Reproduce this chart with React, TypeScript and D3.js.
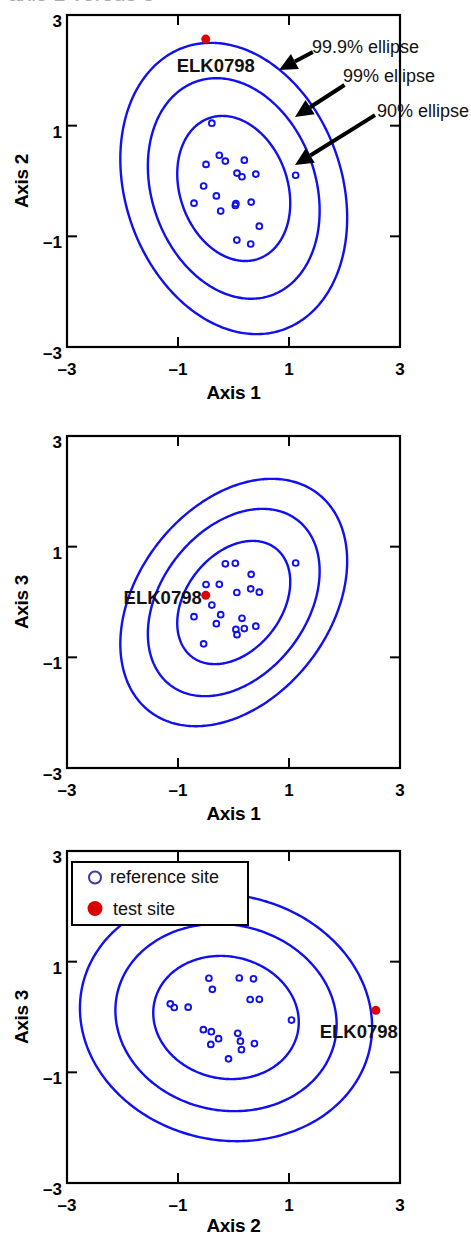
import React from 'react';
import * as d3 from 'd3';

// ---- data (ordination scores of 19 reference sites) ----
const axis1Scores = [-0.39, -0.256, -0.147, 0.195, -0.495, 0.063, 0.153, 0.402, 1.12, -0.538, -0.309, -0.712, 0.033, 0.043, 0.318, -0.231, 0.465, 0.06, 0.31];
const axis2Scores = [1.045, 0.465, 0.36, 0.377, 0.3, 0.143, 0.077, 0.125, 0.104, -0.09, -0.269, -0.4, -0.443, -0.409, -0.381, -0.543, -0.817, -1.067, -1.139];
const axis3Scores = [-0.055, 0.32, 0.69, -0.48, 0.316, -0.59, -0.295, -0.437, 0.705, -0.756, -0.392, -0.266, 0.7, -0.495, 0.5, -0.229, 0.178, 0.172, 0.238];

const testSiteName = 'ELK0798';
const testSiteScores = [-0.5, 2.565, 0.12];

const ellipseLevels = [0.9, 0.99, 0.999];
const ellipseLabels = ['90% ellipse', '99% ellipse', '99.9% ellipse'];
const tickValues = [-3, -1, 1, 3];
const axisDomain: [number, number] = [-3, 3];
const axisTitles = ['Axis 1', 'Axis 2', 'Axis 3'];
const legendLabels = ['reference site', 'test site'];

const scores = [axis1Scores, axis2Scores, axis3Scores];

// annotation anchors (data units of panel 1): [textX, textY, tailX, tailY, tipX, tipY]
const annotationAnchors = [
  [2.586, 1.157, 2.55, 1.19, 1.108, 0.289],
  [1.973, 1.789, 2.0, 1.735, 1.108, 1.157],
  [1.414, 2.313, 1.43, 2.33, 0.82, 2.006],
];

const FRAME_L = 67;
const FRAME_R = 400;
const FRAME_H = 332;
const panelTops = [15, 436, 851];

const BLUE = '#1010f0';
const RED = '#dd0000';
const FONT = '"Liberation Sans", Arial, sans-serif';

const panels = [
  { xi: 0, yi: 1, labelDx: 10, labelDy: 33, anchor: 'middle', annotate: true, legend: false },
  { xi: 0, yi: 2, labelDx: -4, labelDy: 9, anchor: 'end', annotate: false, legend: false },
  { xi: 1, yi: 2, labelDx: 22, labelDy: 28, anchor: 'end', annotate: false, legend: true },
];

function ellipsePath(xs: number[], ys: number[], level: number, sx: any, sy: any) {
  const n = xs.length;
  const mx = d3.mean(xs)!;
  const my = d3.mean(ys)!;
  let sxx = 0, syy = 0, sxy = 0;
  for (let i = 0; i < n; i++) {
    sxx += (xs[i] - mx) ** 2;
    syy += (ys[i] - my) ** 2;
    sxy += (xs[i] - mx) * (ys[i] - my);
  }
  sxx /= n - 1; syy /= n - 1; sxy /= n - 1;
  // Hotelling T^2 with p = 2: (n-1) * ((1-a)^(-2/(n-2)) - 1)
  const t2 = (n - 1) * (Math.pow(1 - level, -2 / (n - 2)) - 1);
  const k = Math.sqrt(t2);
  const l11 = Math.sqrt(sxx);
  const l21 = sxy / l11;
  const l22 = Math.sqrt(syy - l21 * l21);
  const pts: [number, number][] = d3.range(0, 361).map((deg) => {
    const t = (deg * Math.PI) / 180;
    const c = Math.cos(t), s = Math.sin(t);
    return [sx(mx + k * l11 * c), sy(my + k * (l21 * c + l22 * s))];
  });
  return d3.line()(pts)!;
}

function Panel({ p, top }: { p: any; top: number }) {
  const sx = d3.scaleLinear().domain(axisDomain).range([FRAME_L, FRAME_R]);
  const sy = d3.scaleLinear().domain(axisDomain).range([top + FRAME_H, top]);
  const xs = scores[p.xi];
  const ys = scores[p.yi];
  const bottom = top + FRAME_H;
  const tx = sx(testSiteScores[p.xi]);
  const ty = sy(testSiteScores[p.yi]);
  const inner = tickValues.filter((v) => v !== -3 && v !== 3);
  return (
    <g>
      {ellipseLevels.map((lv) => (
        <path key={lv} d={ellipsePath(xs, ys, lv, sx, sy)} fill="none" stroke={BLUE} strokeWidth={2.4} />
      ))}
      {xs.map((x, i) => (
        <circle key={i} cx={sx(x)} cy={sy(ys[i])} r={2.9} fill="none" stroke={BLUE} strokeWidth={1.9} />
      ))}
      <circle cx={tx} cy={ty} r={4.5} fill={RED} />
      <text x={tx + p.labelDx} y={ty + p.labelDy} textAnchor={p.anchor} fontFamily={FONT} fontWeight="bold" fontSize={18.5} fill="#111">
        {testSiteName}
      </text>
      {/* frame */}
      <rect x={FRAME_L} y={top} width={FRAME_R - FRAME_L} height={FRAME_H} fill="none" stroke="#000" strokeWidth={2.2} />
      {inner.map((v) => (
        <g key={v} stroke="#000" strokeWidth={2}>
          <line x1={sx(v)} x2={sx(v)} y1={bottom} y2={bottom - 10} />
          <line x1={sx(v)} x2={sx(v)} y1={top} y2={top + 10} />
          <line x1={FRAME_L} x2={FRAME_L + 10} y1={sy(v)} y2={sy(v)} />
          <line x1={FRAME_R} x2={FRAME_R - 10} y1={sy(v)} y2={sy(v)} />
        </g>
      ))}
      {tickValues.map((v) => (
        <text key={'x' + v} x={sx(v)} y={bottom + 28} textAnchor="middle" fontFamily={FONT} fontWeight="bold" fontSize={17}>
          {v < 0 ? '\u2013' + Math.abs(v) : String(v)}
        </text>
      ))}
      {tickValues.map((v) => (
        <text key={'y' + v} x={62} y={sy(v) + 12} textAnchor="end" fontFamily={FONT} fontWeight="bold" fontSize={17}>
          {v < 0 ? '\u2013' + Math.abs(v) : String(v)}
        </text>
      ))}
      <text x={(FRAME_L + FRAME_R) / 2} y={Math.min(bottom + 52, 1232)} textAnchor="middle" fontFamily={FONT} fontWeight="bold" fontSize={19} letterSpacing={-0.3}>
        {axisTitles[p.xi]}
      </text>
      <text transform={`translate(28,${top + FRAME_H / 2}) rotate(-90)`} textAnchor="middle" fontFamily={FONT} fontWeight="bold" fontSize={19} letterSpacing={-0.3}>
        {axisTitles[p.yi]}
      </text>
      {p.annotate &&
        annotationAnchors.map((a, i) => {
          const x0 = sx(a[2]), y0 = sy(a[3]), x1 = sx(a[4]), y1 = sy(a[5]);
          const ang = Math.atan2(y1 - y0, x1 - x0);
          const hl = 18, hw = 8.5;
          const bx = x1 - hl * Math.cos(ang), by = y1 - hl * Math.sin(ang);
          const px = -Math.sin(ang) * hw, py = Math.cos(ang) * hw;
          return (
            <g key={i}>
              <line x1={x0} y1={y0} x2={bx} y2={by} stroke="#000" strokeWidth={4} />
              <polygon points={`${x1},${y1} ${bx + px},${by + py} ${bx - px},${by - py}`} fill="#000" />
              <text x={sx(a[0])} y={sy(a[1])} fontFamily={FONT} fontSize={18} fill="#111">
                {ellipseLabels[i]}
              </text>
            </g>
          );
        })}
      {p.legend && (
        <g>
          <rect x={72} y={top + 11} width={176} height={63} fill="#fff" stroke="#000" strokeWidth={2} />
          <circle cx={95} cy={top + 26.5} r={6} fill="none" stroke="#3a3aa0" strokeWidth={2} />
          <text x={110} y={top + 32} fontFamily={FONT} fontSize={18} fill="#111">{legendLabels[0]}</text>
          <circle cx={95} cy={top + 57.5} r={7.5} fill={RED} />
          <text x={113} y={top + 64} fontFamily={FONT} fontSize={18} fill="#111">{legendLabels[1]}</text>
        </g>
      )}
    </g>
  );
}

export default function App() {
  return (
    <svg width={471} height={1236} style={{ position: 'absolute', left: 0, top: 0, background: '#fff' }}>
      <rect x={0} y={0} width={471} height={1236} fill="#fff" />
      <text x={8} y={1} fontFamily={FONT} fontSize={22} fill="#aaa">axis 1 versus 3</text>
      {panels.map((p, i) => (
        <Panel key={i} p={p} top={panelTops[i]} />
      ))}
    </svg>
  );
}
